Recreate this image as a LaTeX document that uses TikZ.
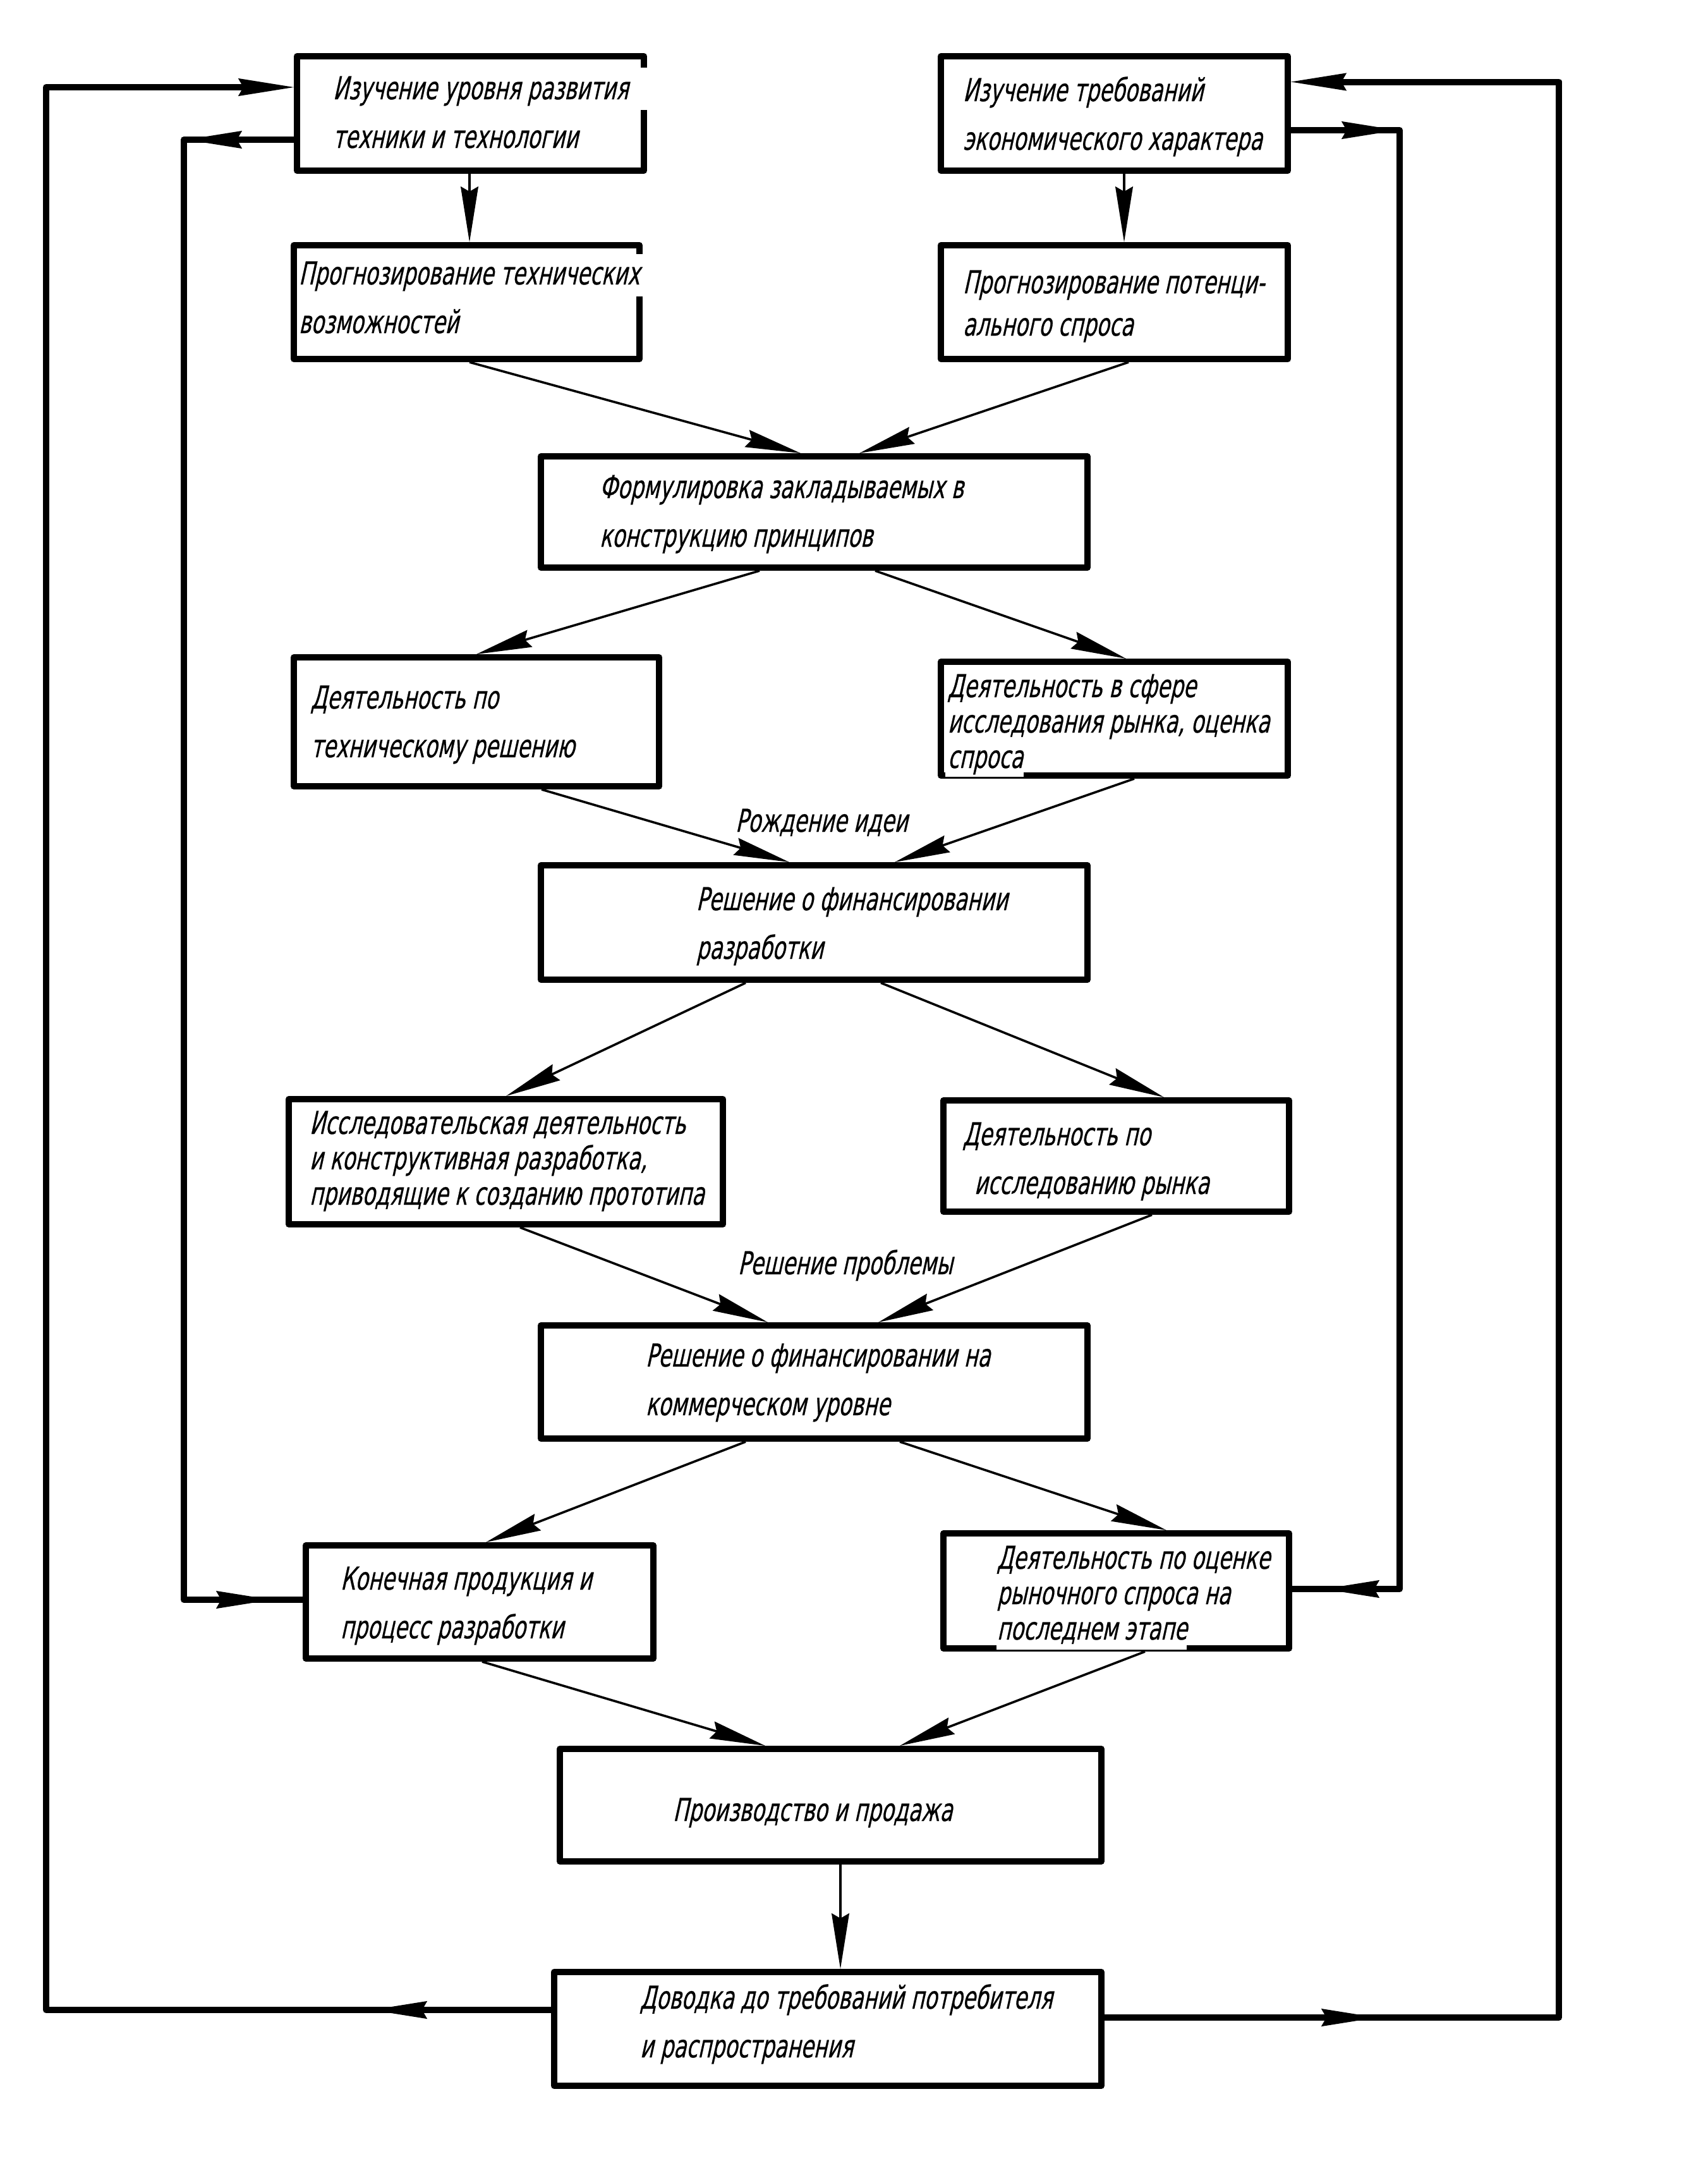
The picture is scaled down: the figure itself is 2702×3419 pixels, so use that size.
\documentclass[tikz,border=0pt]{standalone}
\usepackage{fontspec}
\newfontfamily\gost[FakeStretch=0.66,FakeSlant=0.22,FakeBold=0.5]{DejaVu Sans}
\usetikzlibrary{arrows.meta,fit,decorations.markings}
\tikzset{
  myhead/.tip={Stealth[length=22pt,width=7pt,inset=2pt,line width=0.4pt]},
  box/.style={draw, line width=2.5pt, inner sep=0pt, line join=round},
  gap/.style={fill=white},
  txt/.style={font=\gost\fontsize{12.5}{19.25}\selectfont, anchor=base west, align=left, inner sep=0pt},
  txtd/.style={txt, font=\gost\fontsize{12.5}{16.75}\selectfont},
  txtiii/.style={txt, font=\gost\fontsize{12.5}{14}\selectfont},
  flow/.style={line width=0.9pt, -{myhead}},
  fb/.style={line width=2.5pt, line join=round},
  fbend/.style={fb, -{myhead}},
  midarrow/.style={postaction={decorate}, decoration={markings, mark=at position #1 with {\arrow{myhead}}}},
  midarrows/.style 2 args={postaction={decorate}, decoration={markings,
      mark=at position #1 with {\arrow{myhead}},
      mark=at position #2 with {\arrow{myhead}}}}
}
\begin{document}
\begin{tikzpicture}[x=0.25pt,y=-0.25pt]
\path[use as bounding box, fill=white] (0,0) rectangle (2702,3419);

% boxes
\node[box, fit={(470,89) (1019,270)}] (A) {};
\node[box, fit={(1489,89) (2038,270)}] (B) {};
\node[box, fit={(465,388) (1012,568)}] (C) {};
\node[box, fit={(1489,388) (2038,568)}] (D) {};
\node[box, fit={(856,722) (1721,898)}] (E) {};
\node[box, fit={(465,1040) (1043,1244)}] (F) {};
\node[box, fit={(1489,1047) (2038,1227)}] (G) {};
\node[box, fit={(856,1369) (1721,1550)}] (H) {};
\node[box, fit={(457,1739) (1144,1937)}] (I) {};
\node[box, fit={(1493,1741) (2040,1917)}] (J) {};
\node[box, fit={(856,2097) (1721,2276)}] (K) {};
\node[box, fit={(484,2445) (1034,2624)}] (L) {};
\node[box, fit={(1493,2426) (2040,2608)}] (M) {};
\node[box, fit={(886,2767) (1743,2945)}] (N) {};
\node[box, fit={(877,3120) (1743,3300)}] (O) {};

% white gaps left in the borders by the text backgrounds
\fill[gap] (1010,107) rectangle (1028,174);
\fill[gap] (1003,402) rectangle (1021,469);
\fill[gap] (1496,1219) rectangle (1620,1229);
\fill[gap] (1577,2600) rectangle (1878,2610);

% texts (anchored at the baseline of the last line)
\node[txt] (At) at (526,234) {Изучение уровня развития\\техники и технологии};
\node[txt] (Bt) at (1523,237) {Изучение требований\\экономического характера};
\node[txt] (Ct) at (472,527) {Прогнозирование технических\\возможностей};
\node[txtd] (Dt) at (1523,531) {Прогнозирование потенци-\\ального спроса};
\node[txt] (Et) at (948,865) {Формулировка закладываемых в\\конструкцию принципов};
\node[txt] (Ft) at (491,1198) {Деятельность по\\техническому решению};
\node[txtiii] (Gt) at (1499,1215) {Деятельность в сфере\\исследования рынка, оценка\\спроса};
\node[txt] (lab1) at (1163,1316) {Рождение идеи};
\node[txt] (Ht) at (1101,1517) {Решение о финансировании\\разработки};
\node[txtiii] (It) at (489,1906) {Исследовательская деятельность\\и конструктивная разработка,\\приводящие к созданию прототипа};
\node[txt] (Jt) at (1523,1889) {Деятельность по\\\hspace*{4.5pt}исследованию рынка};
\node[txt] (lab2) at (1167,2016) {Решение проблемы};
\node[txt] (Kt) at (1021,2239) {Решение о финансировании на\\коммерческом уровне};
\node[txt] (Lt) at (538,2592) {Конечная продукция и\\процесс разработки};
\node[txtiii] (Mt) at (1577,2594) {Деятельность по оценке\\рыночного спроса на\\последнем этапе};
\node[txt] (Nt) at (1064,2881) {Производство и продажа};
\node[txt] (Ot) at (1012,3255) {Доводка до требований потребителя\\и распространения};

% main flow arrows
\draw[flow] (A.south -| 743,0) -- (C.north -| 743,0);
\draw[flow] (B.south -| 1779,0) -- (D.north -| 1779,0);
\draw[flow] (C.south -| 743,0) -- (E.north -| 1267,0);
\draw[flow] (D.south -| 1786,0) -- (E.north -| 1360,0);
\draw[flow] (E.south -| 1202,0) -- (F.north -| 754,0);
\draw[flow] (E.south -| 1385,0) -- (G.north -| 1782,0);
\draw[flow] (F.south -| 857,0) -- (H.north -| 1249,0);
\draw[flow] (G.south -| 1795,0) -- (H.north -| 1416,0);
\draw[flow] (H.south -| 1180,0) -- (I.north -| 801,0);
\draw[flow] (H.south -| 1394,0) -- (J.north -| 1842,0);
\draw[flow] (I.south -| 823,0) -- (K.north -| 1215,0);
\draw[flow] (J.south -| 1823,0) -- (K.north -| 1390,0);
\draw[flow] (K.south -| 1180,0) -- (L.north -| 769,0);
\draw[flow] (K.south -| 1424,0) -- (M.north -| 1846,0);
\draw[flow] (L.south -| 763,0) -- (N.north -| 1211,0);
\draw[flow] (M.south -| 1812,0) -- (N.north -| 1424,0);
\draw[flow] (N.south -| 1330,0) -- (O.north -| 1330,0);

% feedback loops
\coordinate (olb) at (73,3180);
\coordinate (olt) at (73,138);
\coordinate (ilt) at (291,221);
\coordinate (ilb) at (291,2531);
\coordinate (irt) at (2215,206);
\coordinate (irb) at (2215,2514);
\coordinate (orb) at (2467,3192);
\coordinate (ort) at (2467,129.5);

\draw[fbend, midarrow=71pt] (O.west |- olb) -- (olb) -- (olt) -- (A.west |- olt);
\draw[fb, midarrows={42.5pt}{-12.25pt}] (A.west |- ilt) -- (ilt) -- (ilb) -- (L.west |- ilb);
\draw[fb, midarrows={42pt}{-12.5pt}] (B.east |- irt) -- (irt) -- (irb) -- (M.east |- irb);
\draw[fbend, midarrow=107.75pt] (O.east |- orb) -- (orb) -- (ort) -- (B.east |- ort);
\end{tikzpicture}
\end{document}
